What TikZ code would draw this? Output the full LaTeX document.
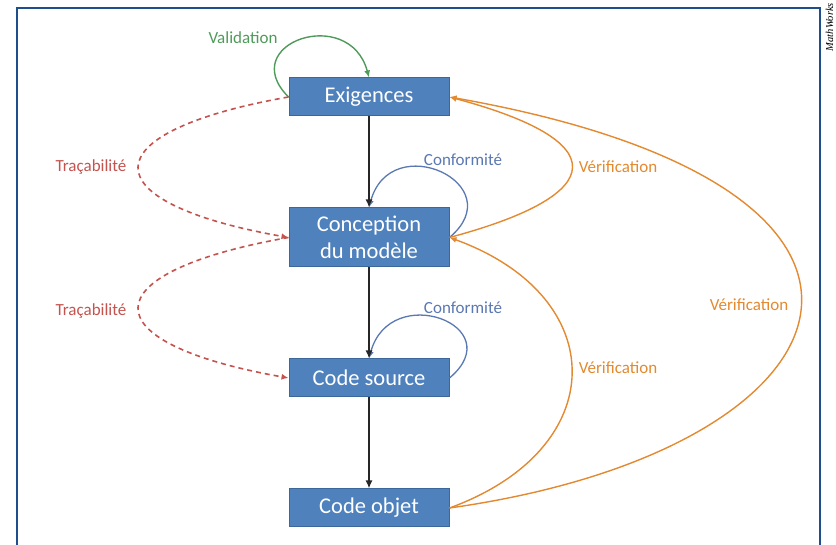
\documentclass[tikz,border=0pt]{standalone}
\usepackage{fontspec}
\setmainfont{Carlito}
\newfontfamily\credfont{Liberation Serif}
\usetikzlibrary{arrows.meta,positioning}
\tikzset{>={Latex[width=7pt,length=8pt]}}
\definecolor{boxfill}{HTML}{4F81BD}
\definecolor{boxline}{HTML}{3B679B}
\definecolor{framecol}{HTML}{1F4E8C}
\definecolor{valgreen}{HTML}{4F9A5A}
\definecolor{confblue}{HTML}{5A78B2}
\definecolor{tracered}{HTML}{C4534E}
\definecolor{verorange}{HTML}{E3892F}

\begin{document}
\begin{tikzpicture}[x=1pt,y=1pt,
  box/.style={draw=boxline, line width=1pt, fill=boxfill, text=white,
    minimum width=160pt, minimum height=38pt, align=center,
    font=\fontsize{22.5}{27}\selectfont},
  lbl/.style={font=\fontsize{17}{20}\selectfont},
  down/.style={->, line width=1.6pt, black!85},
  valid/.style={->, >={Latex[width=6pt,length=7pt]}, line width=1.4pt, valgreen},
  conf/.style={->, >={Latex[width=6pt,length=7pt]}, line width=1.3pt, confblue},
  trace/.style={->, >={Latex[width=6pt,length=7pt]}, line width=1.6pt, tracered,
    dash pattern=on 5pt off 4pt},
  verif/.style={->, >={Latex[width=6pt,length=7pt]}, line width=1.4pt, verorange},
  node distance=91pt]

  \useasboundingbox (0,0) rectangle (836,545);

  % frame and credit
  \draw[framecol, line width=2.5pt] (17,-2) -- (17,537) -- (820,537) -- (820,-2);
  \node[rotate=90, inner sep=0pt, font=\credfont\itshape\fontsize{10.5}{12}\selectfont] (mw) at (829.5,518) {MathWorks};

  % the four steps
  \node[box] (ex) at (369,448) {Exigences};
  \node[box, minimum height=59pt, below=of ex] (co) {Conception\\du modèle};
  \node[box, below=of co] (cs) {Code source};
  \node[box, below=of cs] (cb) {Code objet};

  % labels
  \node[lbl, text=valgreen] (vl) at (243,507) {Validation};
  \node[lbl, text=confblue] (cf1) at (463,385) {Conformité};
  \node[lbl, text=confblue] (cf2) at (463,237) {Conformité};
  \node[lbl, text=tracered] (tr1) at (91,378) {Traçabilité};
  \node[lbl, text=tracered] (tr2) at (91,234) {Traçabilité};
  \node[lbl, text=verorange] (vf1) at (618,378) {Vérification};
  \node[lbl, text=verorange] (vf2) at (618,177) {Vérification};
  \node[lbl, text=verorange] (vf3) at (749,240) {Vérification};

  % conformity loops
  \draw[conf] (co.east) to[out=40, in=75, looseness=2.46] (co.north); % co->co
  \draw[conf] (cs.east) to[out=40, in=75, looseness=2.5] (cs.north); % cs->cs

  % main flow
  \draw[down] (ex) -- (co);
  \draw[down] (co) -- (cs);
  \draw[down] (cs) -- (cb);

  % validation
  \draw[valid] (ex.west) to[out=135, in=105, looseness=2.34] (ex.north); % ex->ex

  % tracability
  \draw[trace] (ex.west) to[out=190, in=170, looseness=3.7] (co.west); % ex->co
  \draw[trace] (co.west) to[out=190, in=170, looseness=3.7] (cs.west); % co->cs

  % verification
  \draw[verif] (co.east) to[out=15, in=-15, looseness=3.08] (ex.east); % co->ex
  \draw[verif] (cb.east) to[out=20, in=-20, looseness=1.64] (co.east); % cb->co
  \draw[verif] (cb.east) to[out=8, in=-10, out looseness=2.6, in looseness=3.3] (ex.east); % cb->ex

\end{tikzpicture}
\end{document}
